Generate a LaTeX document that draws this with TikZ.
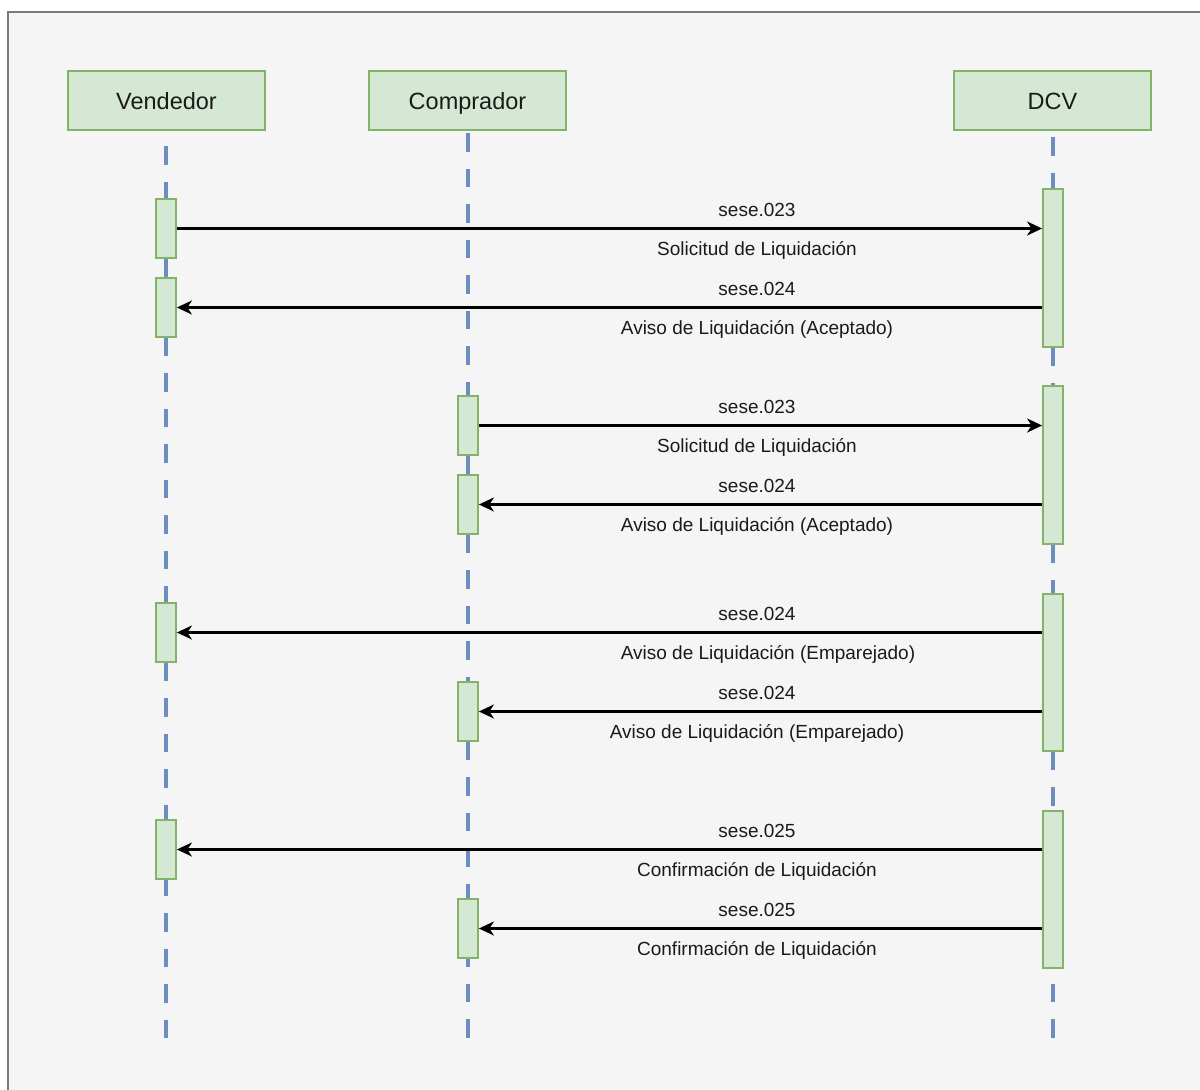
\documentclass[tikz,border=0pt]{standalone}
\usepackage{fontspec}
\setmainfont{Liberation Sans}
\usetikzlibrary{arrows.meta}
\definecolor{bgc}{HTML}{F5F5F5}
\definecolor{framec}{HTML}{7A7A7A}
\definecolor{gfill}{HTML}{D5E8D4}
\definecolor{gdraw}{HTML}{82B366}
\definecolor{lblue}{HTML}{6C8EBF}
\definecolor{txt}{HTML}{1A1A1A}
\begin{document}
\begin{tikzpicture}[x=1pt,y=-1pt,
  actor/.style={draw=gdraw, fill=gfill, line width=2pt, minimum width=197pt, minimum height=59pt, inner sep=0pt, text height=17pt, text depth=0pt, font=\fontsize{23.5}{28}\selectfont, text=txt},
  actbox/.style={draw=gdraw, fill=gfill, line width=1.8pt, minimum width=20pt, inner sep=0pt},
  life/.style={lblue, line width=4.5pt, dash pattern=on 18.5pt off 17pt},
  msg/.style={draw=black, line width=2.2pt, -{Stealth[length=15pt,width=14pt,inset=4.5pt]}},
  lbl/.style={font=\fontsize{19}{22}\selectfont, text=txt, inner sep=0pt, anchor=base}
]
\useasboundingbox (0,0) rectangle (1200,1090);
\fill[white] (0,0) rectangle (1200,1090);
\fill[bgc] (8,12) rectangle (1200,1090);
\draw[framec, line width=2pt] (8,1092) -- (8,12) -- (1202,12);

% actors
\node[actor] (ven) at (166.5,100.5) {Vendedor};
\node[actor] (com) at (467.5,100.5) {Comprador};
\node[actor] (dcv) at (1052.5,100.5) {DCV};

% activation boxes
\node[actbox, minimum height=59pt] (va1) at (166,228.5) {};
\node[actbox, minimum height=59pt] (va2) at (166,307.5) {};
\node[actbox, minimum height=59pt] (va3) at (166,632.5) {};
\node[actbox, minimum height=59pt] (va4) at (166,849.5) {};
\node[actbox, minimum height=59pt] (c1) at (468,425.5) {};
\node[actbox, minimum height=59pt] (c2) at (468,504.5) {};
\node[actbox, minimum height=59pt] (c3) at (468,711.5) {};
\node[actbox, minimum height=59pt] (c4) at (468,928.5) {};
\node[actbox, minimum height=158pt] (d1) at (1053,268) {};
\node[actbox, minimum height=158pt] (d2) at (1053,465) {};
\node[actbox, minimum height=157pt] (d3) at (1053,672.5) {};
\node[actbox, minimum height=157pt] (d4) at (1053,889.5) {};

% lifelines (segments between elements)
\coordinate (lifeEnd) at (0,1038);
\begin{scope}[on background layer/.style={}]
\draw[life, dash phase=20.5pt] (va1.north |- ven.south) -- (va1.north);
\draw[life] (va1.south) -- (va2.north);
\draw[life] (va2.south) -- (va3.north);
\draw[life] (va3.south) -- (va4.north);
\draw[life, dash phase=2pt] (va4.south) -- (va4.south |- lifeEnd);
\draw[life, dash phase=33.5pt] (c1.north |- com.south) -- (c1.north);
\draw[life] (c1.south) -- (c2.north);
\draw[life] (c2.south) -- (c3.north);
\draw[life] (c3.south) -- (c4.north);
\draw[life, dash phase=10.5pt] (c4.south) -- (c4.south |- lifeEnd);
\draw[life, dash phase=29.5pt] (d1.north |- dcv.south) -- (d1.north);
\draw[life] (d1.south) -- (d2.north);
\draw[life] (d2.south) -- (d3.north);
\draw[life] (d3.south) -- (d4.north);
\draw[life, dash phase=20.5pt] (d4.south) -- (d4.south |- lifeEnd);
\end{scope}

% messages
\draw[msg] (va1.east) -- (va1.east -| d1.west);
\draw[msg] (va2.east -| d1.west) -- (va2.east);
\draw[msg] (c1.east) -- (c1.east -| d2.west);
\draw[msg] (c2.east -| d2.west) -- (c2.east);
\draw[msg] (va3.east -| d3.west) -- (va3.east);
\draw[msg] (c3.east -| d3.west) -- (c3.east);
\draw[msg] (va4.east -| d4.west) -- (va4.east);
\draw[msg] (c4.east -| d4.west) -- (c4.east);

% labels
\node[lbl] (l1a) at (757,216) {sese.023};
\node[lbl] (l1b) at (757,255.5) {Solicitud de Liquidación};
\node[lbl] (l2a) at (757,295) {sese.024};
\node[lbl] (l2b) at (757,334.5) {Aviso de Liquidación (Aceptado)};
\node[lbl] (l3a) at (757,413) {sese.023};
\node[lbl] (l3b) at (757,452.5) {Solicitud de Liquidación};
\node[lbl] (l4a) at (757,492) {sese.024};
\node[lbl] (l4b) at (757,531.5) {Aviso de Liquidación (Aceptado)};
\node[lbl] (l5a) at (757,620) {sese.024};
\node[lbl] (l5b) at (768,659.5) {Aviso de Liquidación (Emparejado)};
\node[lbl] (l6a) at (757,699) {sese.024};
\node[lbl] (l6b) at (757,738.5) {Aviso de Liquidación (Emparejado)};
\node[lbl] (l7a) at (757,837) {sese.025};
\node[lbl] (l7b) at (757,876.5) {Confirmación de Liquidación};
\node[lbl] (l8a) at (757,916) {sese.025};
\node[lbl] (l8b) at (757,955.5) {Confirmación de Liquidación};
\end{tikzpicture}
\end{document}
